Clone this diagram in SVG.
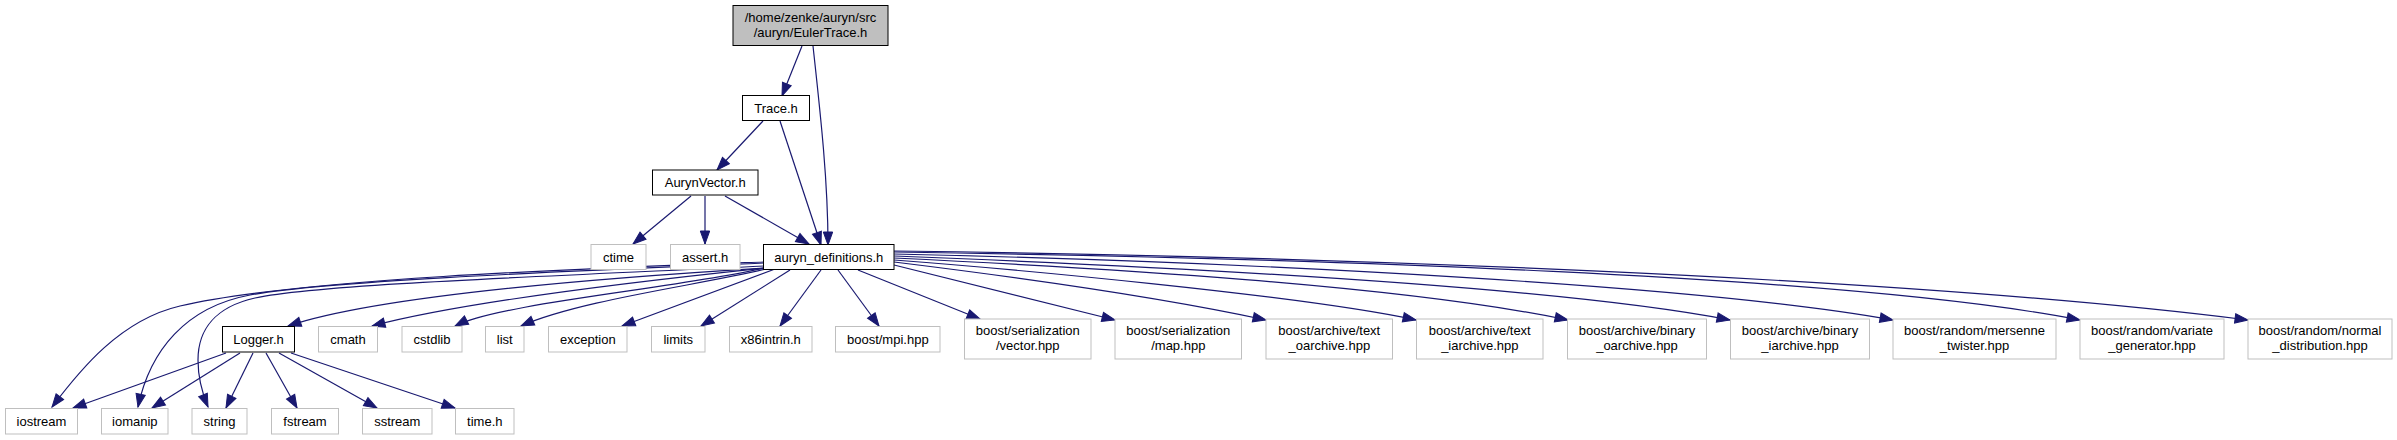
<svg xmlns="http://www.w3.org/2000/svg" width="2397" height="440" viewBox="0 0 2397 440">
<style>
rect{fill:#fff;stroke:#bfbfbf;stroke-width:1}
.d rect{stroke:#000}
.root rect{fill:#bfbfbf;stroke:#000}
text{font-family:"Liberation Sans",Arial,sans-serif;font-size:13px;text-anchor:middle;fill:#000}
#edges path{fill:none;stroke:#191970;stroke-width:1.2;marker-end:url(#a)}
</style>
<defs>
<marker id="a" markerUnits="userSpaceOnUse" markerWidth="15" markerHeight="12" refX="13" refY="5" orient="auto" overflow="visible">
<path d="M0,0.3 L13,5 L0,9.7 z" fill="#191970" stroke="#191970" stroke-width="1"/>
</marker>
</defs>
<rect x="0" y="0" width="2397" height="440" style="fill:#fff;stroke:none"/>
<g id="edges">
<path d="M802,46 L782,96"/>
<path d="M813,46 C820,110 828,180 828,245"/>
<path d="M763,121 L717,170"/>
<path d="M780,121 L821,245"/>
<path d="M691,196 L633,244"/>
<path d="M705,196 L705,244"/>
<path d="M725,196 L809,244"/>
<path d="M765,268 C600,278 380,295 288,326"/>
<path d="M765,268 C650,280 470,300 372,326"/>
<path d="M765,268 C680,288 500,303 455,326"/>
<path d="M766,269 C700,285 580,300 521,326"/>
<path d="M775,269 L622,326"/>
<path d="M790,270 L701,326"/>
<path d="M821,270 L780,326"/>
<path d="M838,270 L879,326"/>
<path d="M858,270 L980,319"/>
<path d="M894,265 L1115,320"/>
<path d="M894,262 C1000,275 1150,295 1266,320"/>
<path d="M894,260 C1000,268 1300,295 1416,320"/>
<path d="M894,258 C1100,268 1400,285 1568,320"/>
<path d="M894,256 C1150,266 1550,285 1730,320"/>
<path d="M894,254 C1250,262 1700,285 1893,320"/>
<path d="M894,252 C1300,258 1850,275 2080,320"/>
<path d="M894,251 C1300,256 1900,276 2248,320"/>
<path d="M764,262 C600,268 300,278 180,306 C120,320 80,370 52,407"/>
<path d="M764,263 C600,270 330,280 250,295 C186,307 150,350 138,407"/>
<path d="M764,266 C560,276 320,284 255,298 C215,307 198,330 198,360 C198,380 203,395 208,407"/>
<path d="M226,353 L73,408"/>
<path d="M240,353 L152,408"/>
<path d="M253,353 L226,408"/>
<path d="M266,353 L297,408"/>
<path d="M279,353 L377,408"/>
<path d="M291,353 L455,408"/>
</g>
<g id="n_eulertrace" class="root"><rect x="733" y="5.5" width="155" height="40"/><text x="810.5" y="22">/home/zenke/auryn/src</text><text x="810.5" y="37">/auryn/EulerTrace.h</text></g>
<g id="n_trace" class="d"><rect x="742.5" y="95.5" width="67" height="25"/><text x="776" y="112.5">Trace.h</text></g>
<g id="n_aurynvector" class="d"><rect x="652.5" y="170" width="105.5" height="25"/><text x="705.2" y="187">AurynVector.h</text></g>
<g id="n_ctime"><rect x="591" y="244.5" width="55" height="25"/><text x="618.5" y="261.5">ctime</text></g>
<g id="n_assert"><rect x="670.5" y="244.5" width="69.5" height="25"/><text x="705.2" y="261.5">assert.h</text></g>
<g id="n_auryndef" class="d"><rect x="763.5" y="244.5" width="130.5" height="25"/><text x="828.8" y="261.5">auryn_definitions.h</text></g>
<g id="n_logger" class="d"><rect x="222.5" y="326.5" width="72" height="25.5"/><text x="258.5" y="344">Logger.h</text></g>
<g id="n_cmath"><rect x="318.5" y="326.5" width="59" height="25.5"/><text x="348" y="344">cmath</text></g>
<g id="n_cstdlib"><rect x="402" y="326.5" width="60" height="25.5"/><text x="432" y="344">cstdlib</text></g>
<g id="n_list"><rect x="485.5" y="326.5" width="38.5" height="25.5"/><text x="504.8" y="344">list</text></g>
<g id="n_exception"><rect x="548.5" y="326.5" width="78.5" height="25.5"/><text x="587.8" y="344">exception</text></g>
<g id="n_limits"><rect x="651.5" y="326.5" width="53.5" height="25.5"/><text x="678.3" y="344">limits</text></g>
<g id="n_x86"><rect x="729.5" y="326.5" width="82.5" height="25.5"/><text x="770.8" y="344">x86intrin.h</text></g>
<g id="n_mpi"><rect x="835.5" y="326.5" width="104.5" height="25.5"/><text x="887.8" y="344">boost/mpi.hpp</text></g>
<g id="n_svector"><rect x="964.5" y="319" width="126.5" height="40"/><text x="1027.8" y="335">boost/serialization</text><text x="1027.8" y="350">/vector.hpp</text></g>
<g id="n_smap"><rect x="1115" y="319" width="126.5" height="40"/><text x="1178.3" y="335">boost/serialization</text><text x="1178.3" y="350">/map.hpp</text></g>
<g id="n_toa"><rect x="1266" y="319" width="126.5" height="40"/><text x="1329.3" y="335">boost/archive/text</text><text x="1329.3" y="350">_oarchive.hpp</text></g>
<g id="n_tia"><rect x="1416.5" y="319" width="126.5" height="40"/><text x="1479.8" y="335">boost/archive/text</text><text x="1479.8" y="350">_iarchive.hpp</text></g>
<g id="n_boa"><rect x="1567.5" y="319" width="139" height="40"/><text x="1637" y="335">boost/archive/binary</text><text x="1637" y="350">_oarchive.hpp</text></g>
<g id="n_bia"><rect x="1730.5" y="319" width="139" height="40"/><text x="1800" y="335">boost/archive/binary</text><text x="1800" y="350">_iarchive.hpp</text></g>
<g id="n_mt"><rect x="1893" y="319" width="163" height="40"/><text x="1974.5" y="335">boost/random/mersenne</text><text x="1974.5" y="350">_twister.hpp</text></g>
<g id="n_vg"><rect x="2080" y="319" width="144" height="40"/><text x="2152" y="335">boost/random/variate</text><text x="2152" y="350">_generator.hpp</text></g>
<g id="n_nd"><rect x="2248" y="319" width="144" height="40"/><text x="2320" y="335">boost/random/normal</text><text x="2320" y="350">_distribution.hpp</text></g>
<g id="n_iostream"><rect x="5.5" y="408.5" width="72" height="25.5"/><text x="41.5" y="426">iostream</text></g>
<g id="n_iomanip"><rect x="101.5" y="408.5" width="66.5" height="25.5"/><text x="134.8" y="426">iomanip</text></g>
<g id="n_string"><rect x="192" y="408.5" width="55" height="25.5"/><text x="219.5" y="426">string</text></g>
<g id="n_fstream"><rect x="271.5" y="408.5" width="67" height="25.5"/><text x="305" y="426">fstream</text></g>
<g id="n_sstream"><rect x="362.5" y="408.5" width="69.5" height="25.5"/><text x="397.3" y="426">sstream</text></g>
<g id="n_time"><rect x="455.5" y="408.5" width="58.5" height="25.5"/><text x="484.8" y="426">time.h</text></g>
</svg>
